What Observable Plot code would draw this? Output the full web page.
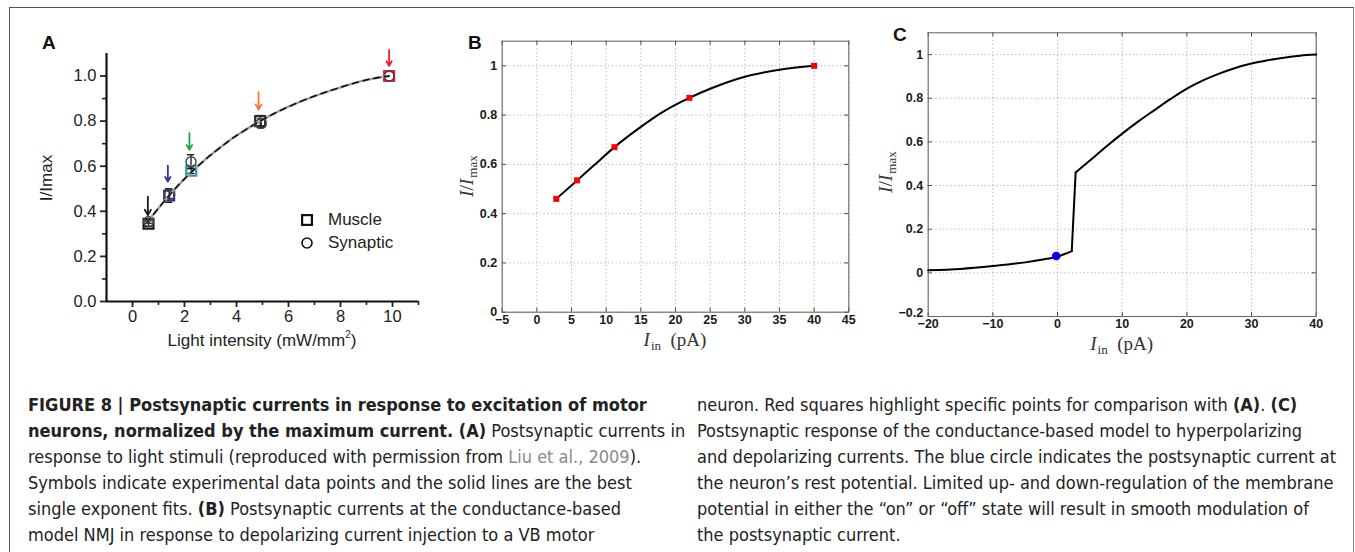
<!DOCTYPE html>
<html><head><meta charset="utf-8">
<script src="https://cdn.jsdelivr.net/npm/d3@7"></script>
<script src="https://cdn.jsdelivr.net/npm/@observablehq/plot@0.6"></script>
<style>
html,body{margin:0;padding:0;background:#fff;}
#fig{position:relative;width:1355px;height:552px;overflow:hidden;background:#fff;}
#border{position:absolute;left:9px;top:7px;width:1345px;height:600px;border-left:1px solid #555;border-top:1px solid #555;border-right:1px solid #888;box-sizing:border-box;}
.plt{position:absolute;}
.plt svg{overflow:visible;}
.lab{position:absolute;font:bold 19px "Liberation Sans",Arial,sans-serif;line-height:22px;color:#111;}
.leg{position:absolute;font:17px "Liberation Sans",Arial,sans-serif;line-height:18px;color:#222;white-space:nowrap;}
.cap{position:absolute;font-family:"DejaVu Sans Condensed","Liberation Sans Narrow",sans-serif;font-stretch:condensed;font-size:18px;line-height:26px;color:#222;white-space:nowrap;}
.cap b{font-weight:bold;}
.cap .ref{color:#8a8a8a;}
</style></head>
<body><div id="fig"><div id="border"></div></div>
<script>
// ---------- Panel A data (Liu et al., 2009) ----------
const aMuscleX   = [0.615, 1.41, 2.26, 4.91, 9.87];
const aMuscleY   = [0.345, 0.47, 0.58, 0.80, 1.0];
const aMuscleErr = [0.012, 0.03, 0.012, 0.025, 0.0];
const aMuscleColor = ["#1a1a1a", "#2e3192", "#2a9db5", "#2a2a2a", "#e8202a"];
const aSynX      = [0.62, 1.43, 2.25, 4.95, 9.87];
const aSynY      = [0.355, 0.475, 0.62, 0.79, 1.0];
const aSynErr    = [0.008, 0.02, 0.031, 0.02, 0.0];
const aArrowX    = [0.59, 1.36, 2.19, 4.85, 9.87];
const aArrowTop  = [0.465, 0.603, 0.747, 0.929, 1.116];
const aArrowTip  = [0.383, 0.532, 0.673, 0.851, 1.045];
const aArrowColor = ["#1a1a1a", "#2b3a9a", "#22a64b", "#f47a36", "#e6202a"];
const aFitX = [0.55, 1, 1.5, 2, 2.5, 3, 3.5, 4, 5, 6, 7, 8, 9, 9.87];
const aFitY = [0.35, 0.414, 0.482, 0.544, 0.599, 0.649, 0.694, 0.736, 0.806, 0.864, 0.911, 0.95, 0.983, 1.0];
const aXTicks = [0, 2, 4, 6, 8, 10];
const aXMinor = [1, 3, 5, 7, 9, 11];
const aYTicks = [0, 0.2, 0.4, 0.6, 0.8, 1.0];
const aYMinor = [0.1, 0.3, 0.5, 0.7, 0.9];

// ---------- Panel B data (model, depolarizing injection) ----------
const bPointX = [2.8, 5.8, 11.2, 22, 40];
const bPointY = [0.46, 0.535, 0.67, 0.87, 1.0];
const bCurveX = [2.8, 5.8, 8, 11.2, 15, 18, 22, 25, 30, 35, 40];
const bCurveY = [0.46, 0.535, 0.59, 0.67, 0.752, 0.81, 0.87, 0.907, 0.956, 0.984, 1.0];
const bXTicks = [-5, 0, 5, 10, 15, 20, 25, 30, 35, 40, 45];
const bYTicks = [0, 0.2, 0.4, 0.6, 0.8, 1];

// ---------- Panel C data (hyperpolarizing & depolarizing) ----------
const cLowX  = [-20, -15, -10, -5, -2.5, 0, 1, 2.2];
const cLowY  = [0.012, 0.018, 0.031, 0.048, 0.06, 0.075, 0.085, 0.10];
const cHighX = [2.8, 5, 7.5, 10, 12.5, 15, 17.5, 20, 22.5, 25, 27.5, 30, 32.5, 35, 37.5, 40];
const cHighY = [0.46, 0.515, 0.578, 0.638, 0.694, 0.746, 0.797, 0.844, 0.882, 0.913, 0.939, 0.959, 0.974, 0.986, 0.995, 1.0];
const cRestX = [-0.2];
const cRestY = [0.077];
const cXTicks = [-20, -10, 0, 10, 20, 30, 40];
const cYTicks = [-0.2, 0, 0.2, 0.4, 0.6, 0.8, 1];

// ---------- helpers ----------
const fig = document.getElementById("fig");
function place(node, left, top) {
  const d = document.createElement("div");
  d.className = "plt"; d.style.left = left + "px"; d.style.top = top + "px";
  d.appendChild(node); fig.appendChild(d);
}
function addText(svg, x, y, rotate, family, size, fill, parts) {
  const t = d3.select(svg).append("text")
    .attr("transform", `translate(${x},${y}) rotate(${rotate})`)
    .attr("text-anchor", "middle").attr("font-family", family)
    .attr("font-size", size).attr("font-weight", "normal").attr("fill", fill);
  for (const p of parts) {
    const s = t.append("tspan").text(p.t).attr("font-style", p.i ? "italic" : "normal");
    if (p.s) s.attr("font-size", p.s);
    if (p.dy) s.attr("dy", p.dy);
    if (p.dx) s.attr("dx", p.dx);
  }
}
const mfmt = d => (d < 0 ? "\u2212" : "") + String(+Math.abs(d).toFixed(1));
const serif = '"Liberation Serif","Times New Roman",serif';

// ---------- Panel A ----------
{
  const W = 440, H = 370, ml = 106, mr = 22, mt = 53, mb = 69;
  const muscle = aMuscleX.map((x, i) => ({x, y: aMuscleY[i], e: aMuscleErr[i], c: aMuscleColor[i]}));
  const syn = aSynX.map((x, i) => ({x, y: aSynY[i], e: aSynErr[i]}));
  const arrows = aArrowX.map((x, i) => ({x, y1: aArrowTop[i], y2: aArrowTip[i], c: aArrowColor[i]}));
  const fit = aFitX.map((x, i) => ({x, y: aFitY[i]}));
  const cap = 0.14;
  const svg = Plot.plot({
    width: W, height: H, marginLeft: ml, marginRight: mr, marginTop: mt, marginBottom: mb,
    x: {domain: [-1, 11], label: null}, y: {domain: [0, 1.1], label: null},
    style: {fontFamily: '"Liberation Sans",Arial,sans-serif', fontSize: "16.5px", color: "#222", background: "transparent"},
    marks: [
      Plot.axisY({ticks: aYTicks, tickSize: 6, tickPadding: 4, tickFormat: d => d.toFixed(1), label: null, strokeWidth: 1.8, fontSize: 16.5}),
      Plot.axisY({ticks: aYMinor, tickSize: 4, tickFormat: () => "", label: null, strokeWidth: 1.6}),
      Plot.axisX({ticks: aXTicks, tickSize: 6, tickPadding: 3, tickFormat: d => String(d), label: null, strokeWidth: 1.8, fontSize: 16.5}),
      Plot.axisX({ticks: aXMinor, tickSize: 4, tickFormat: () => "", label: null, strokeWidth: 1.6}),
      Plot.ruleX([-1], {stroke: "#111", strokeWidth: 2.2}),
      Plot.ruleY([0], {stroke: "#111", strokeWidth: 2.2}),
      // error bars
      Plot.ruleX(muscle, {x: "x", y1: d => d.y - d.e, y2: d => d.y + d.e, stroke: "#111", strokeWidth: 1.3}),
      Plot.ruleY(muscle.filter(d => d.e > 0), {y: d => d.y + d.e, x1: d => d.x - cap, x2: d => d.x + cap, stroke: "#111", strokeWidth: 1.3}),
      Plot.ruleY(muscle.filter(d => d.e > 0), {y: d => d.y - d.e, x1: d => d.x - cap, x2: d => d.x + cap, stroke: "#111", strokeWidth: 1.3}),
      Plot.ruleX(syn, {x: "x", y1: d => d.y - d.e, y2: d => d.y + d.e, stroke: "#111", strokeWidth: 1.3}),
      Plot.ruleY(syn.filter(d => d.e > 0), {y: d => d.y + d.e, x1: d => d.x - cap, x2: d => d.x + cap, stroke: "#111", strokeWidth: 1.3}),
      Plot.ruleY(syn.filter(d => d.e > 0), {y: d => d.y - d.e, x1: d => d.x - cap, x2: d => d.x + cap, stroke: "#111", strokeWidth: 1.3}),
      // symbols
      Plot.dot(muscle, {x: "x", y: "y", symbol: "square", r: 5.6, stroke: "c", strokeWidth: 2.2, fill: "none"}),
      Plot.dot(syn, {x: "x", y: "y", symbol: "circle", r: 5, stroke: "#444", strokeWidth: 1.4, fill: "none"}),
      // fits: solid grey and dashed black
      Plot.line(fit, {x: "x", y: "y", stroke: "#a0a0a0", strokeWidth: 2.4, curve: "natural"}),
      Plot.line(fit, {x: "x", y: "y", stroke: "#111", strokeWidth: 1.6, strokeDasharray: "6,5", curve: "natural"}),
      // arrows
      Plot.arrow(arrows, {x1: "x", x2: "x", y1: "y1", y2: "y2", stroke: "c", strokeWidth: 1.8, headLength: 6})
    ]
  });
  addText(svg, 52, 178, -90, '"Liberation Sans",Arial,sans-serif', 17, "#222", [{t: "I/Imax"}]);
  addText(svg, 262, 346, 0, '"Liberation Sans",Arial,sans-serif', 17, "#222", [{t: "Light intensity (mW/mm"}, {t: "2", s: 10, dy: -8}, {t: ")", dy: 8}]);
  place(svg, 0, 0);
  const leg = document.createElement("div");
  leg.innerHTML =
    `<svg style="position:absolute;left:301px;top:214px" width="12" height="12"><rect x="1.1" y="1.1" width="9.8" height="9.8" fill="none" stroke="#111" stroke-width="2.2"/></svg>` +
    `<div class="leg" style="left:328px;top:211px">Muscle</div>` +
    `<svg style="position:absolute;left:301px;top:237px" width="12" height="12"><circle cx="6" cy="6" r="5" fill="none" stroke="#111" stroke-width="1.6"/></svg>` +
    `<div class="leg" style="left:328px;top:234px">Synaptic</div>`;
  fig.appendChild(leg);
}

// ---------- MATLAB-style panels ----------
function matlabPanel({W, H, ml, mr, mt, mb, xDomain, yDomain, xTicks, yTicks, lowShift = 0, extra}) {
  const fw = W - ml - mr, fh = H - mt - mb, t = 4;
  const grid = {stroke: "#9a9a9a", strokeWidth: 0.8, strokeDasharray: "1.2,2.6"};
  const yMain = lowShift ? yTicks.filter(v => v !== yDomain[0]) : yTicks;
  const yLow = lowShift ? yTicks.filter(v => v === yDomain[0]) : [];
  return Plot.plot({
    width: W, height: H, marginLeft: ml, marginRight: mr, marginTop: mt, marginBottom: mb,
    x: {domain: xDomain, label: null}, y: {domain: yDomain, label: null},
    style: {fontFamily: '"Liberation Sans",Arial,sans-serif', fontSize: "12.5px", fontWeight: "bold", color: "#1a1a1a", background: "transparent"},
    marks: [
      Plot.ruleX(xTicks, grid),
      Plot.ruleY(yTicks, grid),
      Plot.ruleX(xTicks, {stroke: "#444", insetTop: fh - t}),
      Plot.ruleX(xTicks, {stroke: "#444", insetBottom: fh - t}),
      Plot.ruleY(yTicks, {stroke: "#444", insetRight: fw - t}),
      Plot.ruleY(yTicks, {stroke: "#444", insetLeft: fw - t}),
      Plot.frame({stroke: "#6a6a6a", strokeWidth: 1.1}),
      Plot.axisX({ticks: xTicks, tickSize: 0, tickPadding: 3, tickFormat: mfmt, label: null}),
      Plot.axisY({ticks: yMain, tickSize: 0, tickPadding: 5, tickFormat: mfmt, label: null}),
      ...(yLow.length ? [Plot.axisY({ticks: yLow, tickSize: 0, tickPadding: 5, tickFormat: mfmt, label: null, dy: lowShift})] : []),
      ...extra
    ]
  });
}

// ---------- Panel B ----------
{
  const W = 440, H = 340, ml = 61.7, mr = 31.7, mt = 20.7, mb = 48.3;
  const curve = bCurveX.map((x, i) => ({x, y: bCurveY[i]}));
  const pts = bPointX.map((x, i) => ({x, y: bPointY[i]}));
  const svg = matlabPanel({W, H, ml, mr, mt, mb, xDomain: [-5, 45], yDomain: [0, 1.1], xTicks: bXTicks, yTicks: bYTicks, extra: [
    Plot.line(curve, {x: "x", y: "y", stroke: "#000", strokeWidth: 2, curve: "monotone-x"}),
    Plot.dot(pts, {x: "x", y: "y", symbol: "square", r: 3.4, fill: "#ff0000", stroke: "none"})
  ]});
  addText(svg, 33, (mt + H - mb) / 2, -90, serif, 19.5, "#333", [{t: "I", i: true}, {t: "/"}, {t: "I", i: true}, {t: "max", s: 13, dy: 4, dx: 1}]);
  addText(svg, ml + (W - ml - mr) / 2, 326, 0, serif, 19, "#333", [{t: "I", i: true}, {t: "in", s: 13, dy: 4, dx: 1}, {t: "\u2002(pA)", dy: -4}]);
  place(svg, 440, 20);
}

// ---------- Panel C ----------
{
  const W = 485, H = 340, ml = 57.7, mr = 39.3, mt = 12.3, mb = 44;
  const low = cLowX.map((x, i) => ({x, y: cLowY[i]}));
  const high = cHighX.map((x, i) => ({x, y: cHighY[i]}));
  const jump = [low[low.length - 1], high[0]];
  const rest = cRestX.map((x, i) => ({x, y: cRestY[i]}));
  const svg = matlabPanel({W, H, ml, mr, mt, mb, xDomain: [-20, 40], yDomain: [-0.2, 1.1], xTicks: cXTicks, yTicks: cYTicks, lowShift: -4, extra: [
    Plot.line(low, {x: "x", y: "y", stroke: "#000", strokeWidth: 2, curve: "monotone-x"}),
    Plot.line(jump, {x: "x", y: "y", stroke: "#000", strokeWidth: 2, curve: "linear"}),
    Plot.line(high, {x: "x", y: "y", stroke: "#000", strokeWidth: 2, curve: "monotone-x"}),
    Plot.dot(rest, {x: "x", y: "y", r: 4.3, fill: "#0000ff", stroke: "none"})
  ]});
  addText(svg, 22, (mt + H - mb) / 2 - 2, -90, serif, 19.5, "#333", [{t: "I", i: true}, {t: "/"}, {t: "I", i: true}, {t: "max", s: 13, dy: 4, dx: 1}]);
  addText(svg, ml + (W - ml - mr) / 2, 330, 0, serif, 19, "#333", [{t: "I", i: true}, {t: "in", s: 13, dy: 4, dx: 1}, {t: "\u2002(pA)", dy: -4}]);
  place(svg, 870, 20);
}

// ---------- labels & caption ----------
function div(cls, left, top, html) {
  const d = document.createElement("div");
  d.className = cls; d.style.left = left + "px"; d.style.top = top + "px"; d.innerHTML = html;
  fig.appendChild(d);
}
div("lab", 42, 32, "A");
div("lab", 468, 32, "B");
div("lab", 893, 24, "C");

const capLeft = [
  "<b>FIGURE 8 | Postsynaptic currents in response to excitation of motor</b>",
  "<b>neurons, normalized by the maximum current. (A)</b> Postsynaptic currents in",
  "response to light stimuli (reproduced with permission from <span class='ref'>Liu et al., 2009</span>).",
  "Symbols indicate experimental data points and the solid lines are the best",
  "single exponent fits. <b>(B)</b> Postsynaptic currents at the conductance-based",
  "model NMJ in response to depolarizing current injection to a VB motor"
];
const capRight = [
  "neuron. Red squares highlight specific points for comparison with <b>(A)</b>. <b>(C)</b>",
  "Postsynaptic response of the conductance-based model to hyperpolarizing",
  "and depolarizing currents. The blue circle indicates the postsynaptic current at",
  "the neuron\u2019s rest potential. Limited up- and down-regulation of the membrane",
  "potential in either the \u201Con\u201D or \u201Coff\u201D state will result in smooth modulation of",
  "the postsynaptic current."
];
div("cap", 28, 392, capLeft.join("<br>"));
div("cap", 697, 392, capRight.join("<br>"));
</script>
</body></html>
